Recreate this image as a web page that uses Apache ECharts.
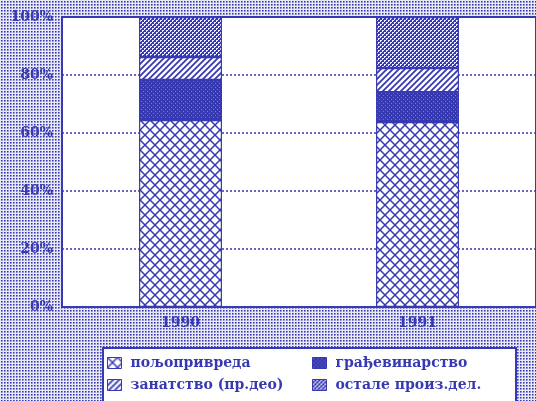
<!DOCTYPE html>
<html><head><meta charset="utf-8">
<script src="https://cdn.jsdelivr.net/npm/echarts@6/dist/echarts.min.js"></script>
<style>
html,body{margin:0;padding:0;width:536px;height:401px;overflow:hidden;}
#c{width:536px;height:401px;}
</style>
</head><body><div id="c"></div>
<script>
const categories = ['1990', '1991'];
const seriesNames = ['пољопривреда', 'грађевинарство', 'занатство (пр.део)', 'остале произ.дел.'];
const poljoprivreda = [64.5, 63.8];
const gradjevinarstvo = [13.8, 10.3];
const zanatstvo = [7.9, 8.3];
const ostale = [13.8, 17.6];
const yTicks = [0, 20, 40, 60, 80, 100];

const BLUE = '#3739b2';

function tile(w, h, draw) {
  const c = document.createElement('canvas');
  c.width = w; c.height = h;
  const g = c.getContext('2d');
  draw(g, w, h);
  return c;
}
// page halftone background
const bgTile = tile(3, 3, (g) => {
  g.fillStyle = '#e8e8f6'; g.fillRect(0, 0, 3, 3);
  g.fillStyle = '#7e80cf';
  g.fillRect(2, 1, 1, 1); g.fillRect(1, 2, 1, 1);
  g.fillStyle = '#aeb0e0'; g.fillRect(2, 2, 1, 1);
  g.fillStyle = '#3739b2'; g.fillRect(1, 1, 1, 1);
});
document.body.style.background = 'url(' + bgTile.toDataURL() + ') repeat';

const crossTile = tile(10, 10, (g, w, h) => {
  g.fillStyle = '#ffffff'; g.fillRect(0, 0, w, h);
  g.strokeStyle = BLUE; g.lineWidth = 1.5;
  g.beginPath();
  g.moveTo(0, 0); g.lineTo(w, h);
  g.moveTo(w, 0); g.lineTo(0, h);
  g.stroke();
});
const solidTile = tile(4, 4, (g) => {
  g.fillStyle = BLUE; g.fillRect(0, 0, 4, 4);
  g.fillStyle = '#7678cc';
  g.fillRect(1, 1, 1, 1); g.fillRect(3, 3, 1, 1);
});
const stripeTile = tile(6, 6, (g, w, h) => {
  g.fillStyle = '#ffffff'; g.fillRect(0, 0, w, h);
  g.strokeStyle = BLUE; g.lineWidth = 1.8;
  g.beginPath();
  g.moveTo(-1, h + 1); g.lineTo(w + 1, -1);
  g.moveTo(-1, 1); g.lineTo(1, -1);
  g.moveTo(w - 1, h + 1); g.lineTo(w + 1, h - 1);
  g.stroke();
});
const checkTile = tile(4, 4, (g) => {
  g.fillStyle = BLUE; g.fillRect(0, 0, 4, 4);
  g.fillStyle = '#f0f0fa';
  g.fillRect(0, 0, 2, 1); g.fillRect(0, 1, 1, 1);
  g.fillRect(2, 2, 2, 1); g.fillRect(2, 3, 1, 1);
});

const pat = (c) => ({ image: c, repeat: 'repeat' });
const fills = [pat(crossTile), pat(solidTile), pat(stripeTile), pat(checkTile)];
const datas = [poljoprivreda, gradjevinarstvo, zanatstvo, ostale];

const FONT = 'DejaVu Serif';
const legendPos = [[107, 356], [312, 356], [107, 378], [312, 378]];
const chart = echarts.init(document.getElementById('c'), null, { renderer: 'canvas' });
chart.setOption({
  backgroundColor: 'transparent',
  animation: false,
  grid: { left: 62, top: 17, width: 480, height: 290, show: true, backgroundColor: '#ffffff', borderColor: BLUE, borderWidth: 2 },
  xAxis: {
    type: 'category', data: categories,
    axisLine: { show: true, lineStyle: { color: BLUE, width: 2 } },
    axisTick: { show: false },
    axisLabel: { color: BLUE, fontFamily: FONT, fontWeight: 'bold', fontSize: 14, margin: 9 }
  },
  yAxis: {
    type: 'value', min: yTicks[0], max: yTicks[yTicks.length - 1], interval: 20,
    axisLine: { show: false }, axisTick: { show: false },
    axisLabel: { color: BLUE, fontFamily: FONT, fontWeight: 'bold', fontSize: 14, margin: 9, formatter: '{value}%' },
    splitLine: { show: true, lineStyle: { color: BLUE, width: 1.5, type: [2, 2] } }
  },
  legend: seriesNames.map((n, i) => ({
    data: [n], left: legendPos[i][0], top: legendPos[i][1], padding: 0,
    itemWidth: 14, itemHeight: 11, itemGap: 0, icon: 'rect',
    itemStyle: { borderColor: BLUE, borderWidth: 1 },
    textStyle: { color: BLUE, fontFamily: FONT, fontWeight: 'bold', fontSize: 14, padding: [0, 0, 0, 4] }
  })),
  graphic: [{
    type: 'rect', left: 102, top: 347, z: -1,
    shape: { width: 413, height: 70 },
    style: { fill: '#ffffff', stroke: BLUE, lineWidth: 2 }
  }],
  series: seriesNames.map((n, i) => ({
    name: n, type: 'bar', stack: 'total', data: datas[i], barWidth: '35%',
    itemStyle: { color: fills[i], borderColor: BLUE, borderWidth: 1.2 }
  }))
});
</script>
</body></html>
